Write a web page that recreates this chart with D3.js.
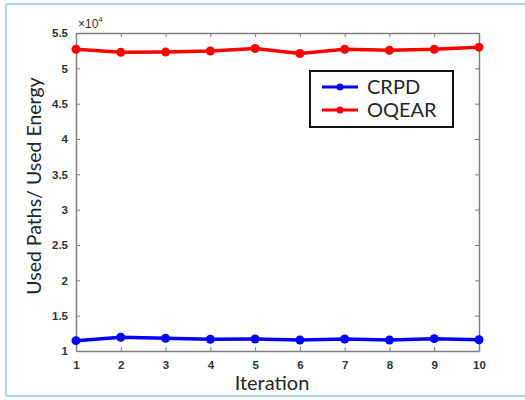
<!DOCTYPE html>
<html>
<head>
<meta charset="utf-8">
<script src="https://cdn.jsdelivr.net/npm/d3@7"></script>
<style>
  body { margin: 0; background: #fff; }
  svg { display: block; }
</style>
</head>
<body>
<svg width="525" height="400"></svg>
<script>
// data (y values in units of 10^4)
var iterations = [1, 2, 3, 4, 5, 6, 7, 8, 9, 10];
var crpd  = [1.146, 1.194, 1.180, 1.166, 1.170, 1.156, 1.170, 1.156, 1.175, 1.160];
var oqear = [5.270, 5.227, 5.230, 5.245, 5.280, 5.210, 5.270, 5.255, 5.270, 5.300];
var yTicks = [1, 1.5, 2, 2.5, 3, 3.5, 4, 4.5, 5, 5.5];
var seriesNames = ["CRPD", "OQEAR"];
var seriesColors = ["#0000ff", "#ff0000"];

var svg = d3.select("svg");
var plotLeft = 76, plotRight = 479, plotTop = 33, plotBottom = 351;

var x = d3.scaleLinear().domain([1, 10]).range([plotLeft, plotRight]);
var y = d3.scaleLinear().domain([1, 5.5]).range([plotBottom, plotTop]);

// light blue frame around the figure
var frame = svg.append("g").attr("stroke", "#9dc3e6").attr("stroke-width", 1.5);
frame.append("line").attr("x1", 6).attr("x2", 525).attr("y1", 4).attr("y2", 4);
frame.append("line").attr("x1", 6).attr("x2", 6).attr("y1", 4).attr("y2", 396);
frame.append("line").attr("x1", 6).attr("x2", 525).attr("y1", 396).attr("y2", 396);

// axes with inward ticks, box on
var axisColor = "#7f7f7f";
var fmt = function(d) { return String(d); };
var xAxis = svg.append("g")
  .attr("transform", "translate(0," + plotBottom + ")")
  .call(d3.axisBottom(x).tickValues(iterations).tickFormat(fmt).tickSizeInner(-4).tickSizeOuter(0).tickPadding(10));
var xTop = svg.append("g")
  .attr("transform", "translate(0," + plotTop + ")")
  .call(d3.axisTop(x).tickValues(iterations).tickSizeInner(-4).tickSizeOuter(0).tickFormat(""));
var yAxis = svg.append("g")
  .attr("transform", "translate(" + plotLeft + ",0)")
  .call(d3.axisLeft(y).tickValues(yTicks).tickFormat(fmt).tickSizeInner(-4).tickSizeOuter(0).tickPadding(8));
var yRight = svg.append("g")
  .attr("transform", "translate(" + plotRight + ",0)")
  .call(d3.axisRight(y).tickValues(yTicks).tickSizeInner(-4).tickSizeOuter(0).tickFormat(""));

[xAxis, xTop, yAxis, yRight].forEach(function(a) {
  a.select(".domain").attr("stroke", axisColor).attr("stroke-width", 1.5);
  a.selectAll(".tick line").attr("stroke", axisColor);
  a.selectAll("text")
    .attr("font-family", "Liberation Sans, Arial, sans-serif")
    .attr("font-size", 11.5)
    .attr("font-weight", "bold")
    .attr("fill", "#333");
});

// x10^4 exponent label
var expo = svg.append("text")
  .attr("x", plotLeft + 2).attr("y", plotTop - 5)
  .attr("font-family", "Liberation Sans, Arial, sans-serif")
  .attr("font-size", 12)
  .attr("fill", "#333");
expo.append("tspan").text("\u00d710");
expo.append("tspan").attr("font-size", 8).attr("dy", -6).text("4");

// series
var line = d3.line()
  .x(function(d, i) { return x(iterations[i]); })
  .y(function(d) { return y(d); });

[crpd, oqear].forEach(function(vals, k) {
  svg.append("path")
    .datum(vals)
    .attr("fill", "none")
    .attr("stroke", seriesColors[k])
    .attr("stroke-width", 3.5)
    .attr("d", line);
  svg.append("g").selectAll("circle")
    .data(vals)
    .enter().append("circle")
    .attr("cx", function(d, i) { return x(iterations[i]); })
    .attr("cy", function(d) { return y(d); })
    .attr("r", 4.5)
    .attr("fill", seriesColors[k]);
});

// axis titles
svg.append("text")
  .attr("x", 272).attr("y", 390)
  .attr("text-anchor", "middle")
  .attr("font-family", "Lato, Open Sans, sans-serif")
  .attr("font-size", 20)
  .attr("fill", "#262626")
  .text("Iteration");

svg.append("text")
  .attr("transform", "translate(41,186) rotate(-90)")
  .attr("text-anchor", "middle")
  .attr("font-family", "Lato, Open Sans, sans-serif")
  .attr("font-size", 19.5)
  .attr("fill", "#262626")
  .text("Used Paths/ Used Energy");

// legend
var legend = svg.append("g").attr("transform", "translate(310,71)");
legend.append("rect")
  .attr("width", 143).attr("height", 56)
  .attr("fill", "#fff")
  .attr("stroke", "#111")
  .attr("stroke-width", 2);
var items = legend.selectAll("g.item")
  .data(seriesNames)
  .enter().append("g")
  .attr("class", "item")
  .attr("transform", function(d, i) { return "translate(0," + (16 + i * 23) + ")"; });
items.append("line")
  .attr("x1", 12).attr("x2", 48)
  .attr("stroke", function(d, i) { return seriesColors[i]; })
  .attr("stroke-width", 3);
items.append("circle")
  .attr("cx", 30).attr("r", 3.5)
  .attr("fill", function(d, i) { return seriesColors[i]; });
items.append("text")
  .attr("x", 57).attr("dy", "0.35em")
  .attr("font-family", "Lato, Open Sans, sans-serif")
  .attr("font-size", 20)
  .attr("fill", "#262626")
  .text(function(d) { return d; });
</script>
</body>
</html>
